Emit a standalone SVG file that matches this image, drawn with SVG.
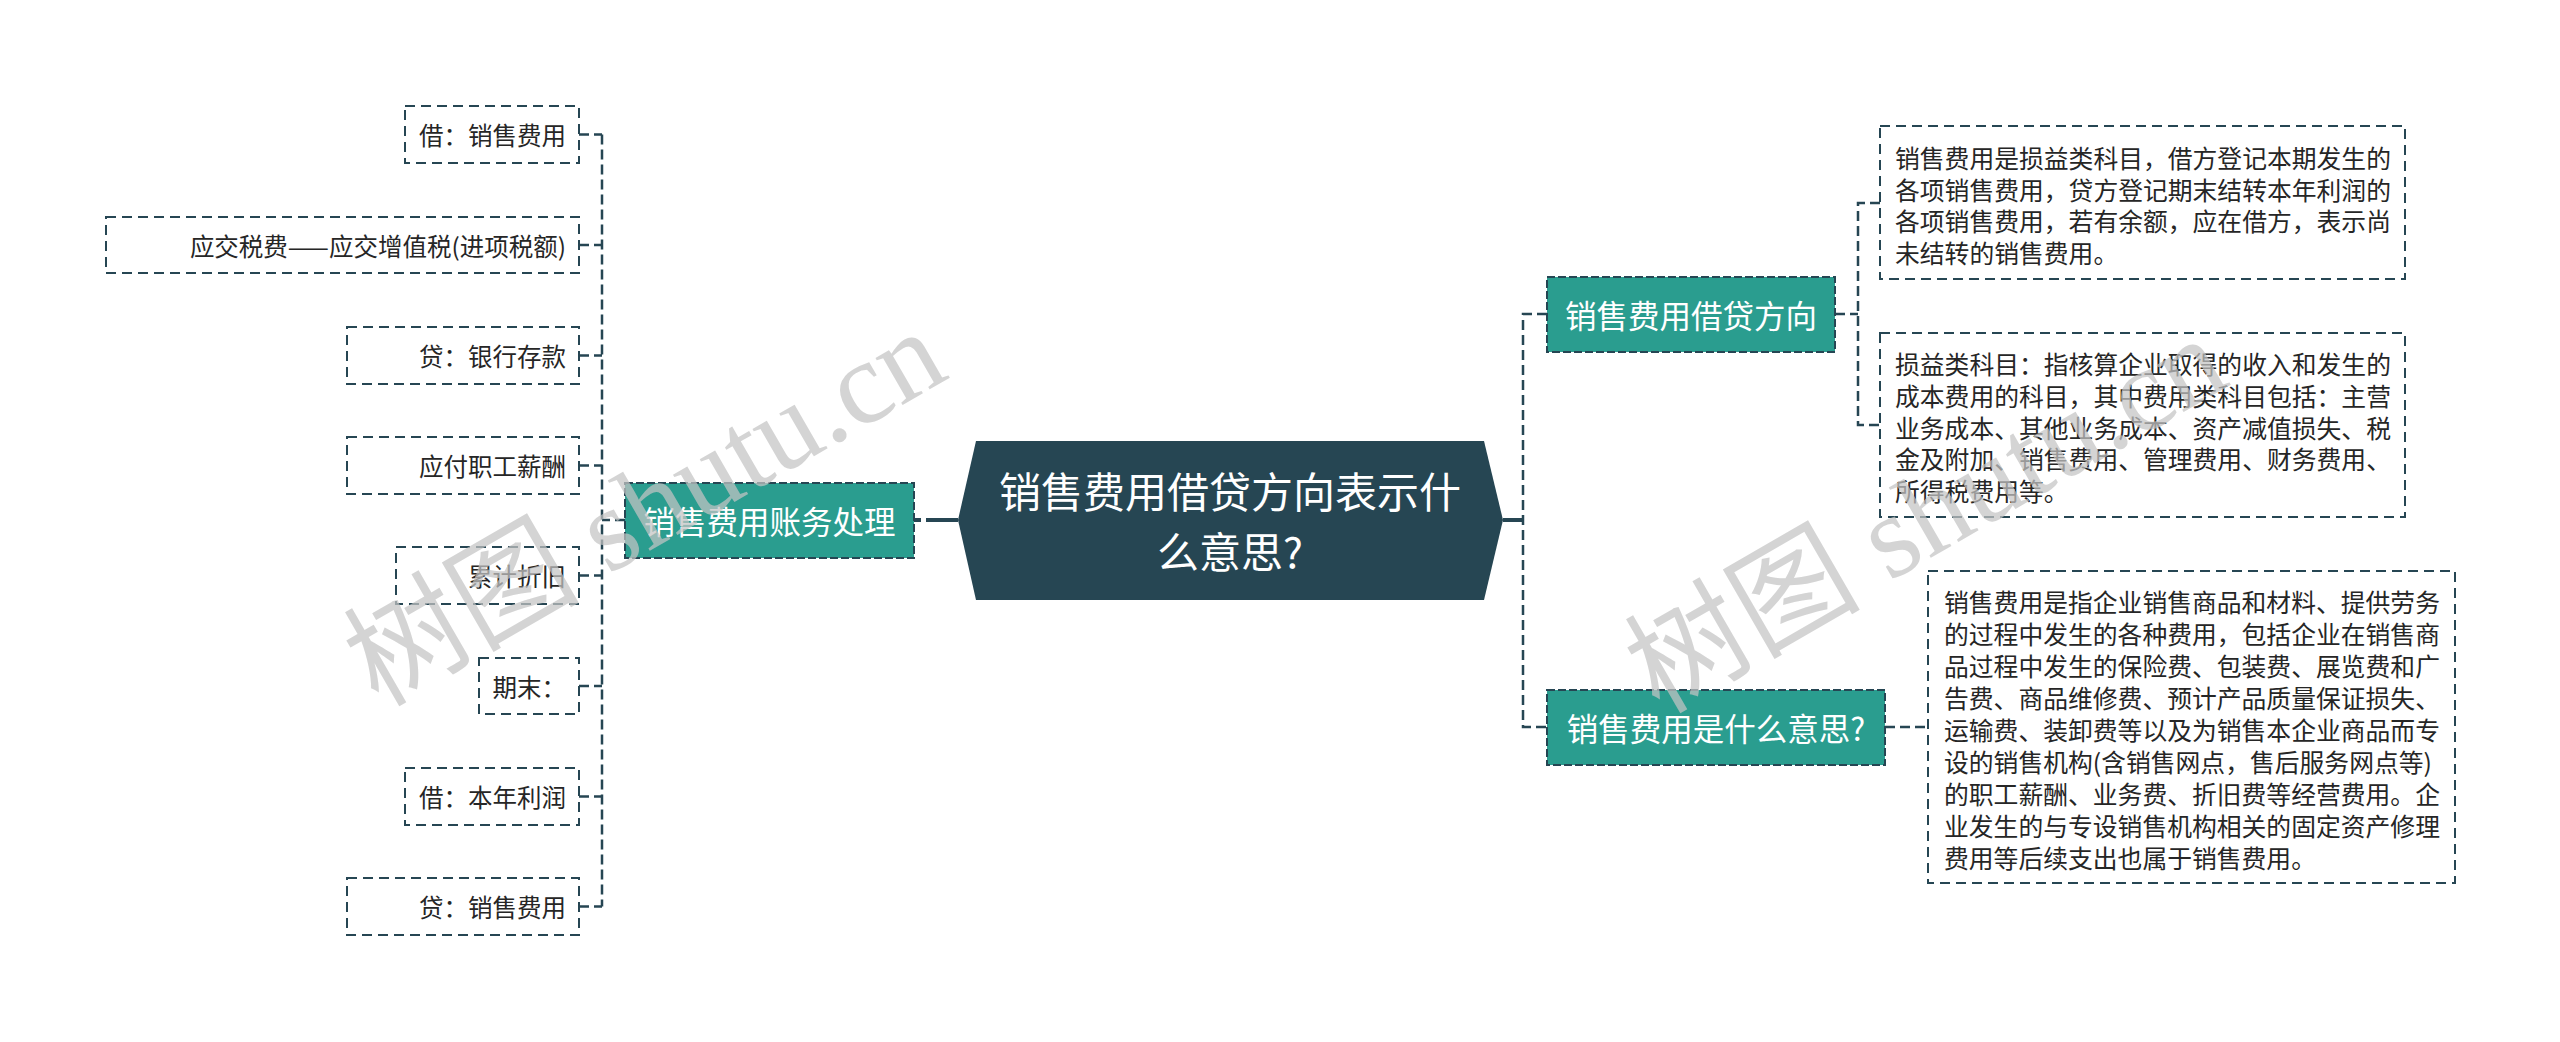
<svg xmlns="http://www.w3.org/2000/svg" width="2560" height="1042" viewBox="0 0 2560 1042">
<style>
.leaf{fill:#fff;stroke:#264653;stroke-width:2;stroke-dasharray:10 6}
.branch{fill:#2a9d8f;stroke:#264653;stroke-width:2;stroke-dasharray:8 3}
.root{fill:#264653}
.conn{fill:none;stroke:#264653;stroke-width:2.5;stroke-dasharray:10 5}
.main{fill:none;stroke:#264653;stroke-width:4}
.t{font-family:"Noto Sans CJK SC","Liberation Sans",sans-serif;dominant-baseline:central}
.lt{font-size:24.5px;fill:#262626;text-anchor:end}
.rt{font-size:24.8px;fill:#262626}
.bt{font-size:31.5px;fill:#fff;text-anchor:middle}
.ct{font-size:42px;fill:#fff;text-anchor:middle}
.wm{font-family:"Liberation Serif","Noto Sans CJK SC",serif;font-size:118px;fill:#c4c4c4;opacity:0.72;text-anchor:middle;dominant-baseline:central}
</style>
<rect width="2560" height="1042" fill="#fff"/>
<g id="connectors">
  <path class="main" d="M958 520 H914" stroke-dasharray="32 5 10"/>
  <path class="main" d="M1503 520 H1523"/>
  <path class="conn" d="M625 520 H602 M602 134.5 V906.5 M579 134.5 H602 M579 245 H602 M579 355.5 H602 M579 465.5 H602 M579 575.5 H602 M579 686 H602 M579 796.5 H602 M579 906.5 H602"/>
  <path class="conn" d="M1547 314 H1523 V727 H1547"/>
  <path class="conn" d="M1835 314 H1858 M1880 203 H1858 V425 H1880"/>
  <path class="conn" d="M1885 727 H1928"/>
</g>
<g id="root">
  <polygon class="root" points="976,441 1484,441 1503,520 1484,600 976,600 958,520"/>
  <text class="t ct" x="1230" y="489">销售费用借贷方向表示什</text>
  <text class="t ct" x="1230" y="549">么意思?</text>
</g>
<g id="branch-left">
  <rect class="branch" x="625" y="483" width="289" height="75"/>
  <text class="t bt" x="769.5" y="520">销售费用账务处理</text>
</g>
<g id="leaf1"><rect class="leaf" x="405" y="106" width="174" height="57"/><text class="t lt" x="566" y="134.5">借：销售费用</text></g>
<g id="leaf2"><rect class="leaf" x="106" y="217" width="473" height="56"/><text class="t lt" x="566" y="245">应交税费——应交增值税(进项税额)</text></g>
<g id="leaf3"><rect class="leaf" x="347" y="327" width="232" height="57"/><text class="t lt" x="566" y="355.5">贷：银行存款</text></g>
<g id="leaf4"><rect class="leaf" x="347" y="437" width="232" height="57"/><text class="t lt" x="566" y="465.5">应付职工薪酬</text></g>
<g id="leaf5"><rect class="leaf" x="396" y="547" width="183" height="57"/><text class="t lt" x="566" y="575.5">累计折旧</text></g>
<g id="leaf6"><rect class="leaf" x="479" y="658" width="100" height="56"/><text class="t lt" x="566" y="686">期末：</text></g>
<g id="leaf7"><rect class="leaf" x="405" y="768" width="174" height="57"/><text class="t lt" x="566" y="796.5">借：本年利润</text></g>
<g id="leaf8"><rect class="leaf" x="347" y="878" width="232" height="57"/><text class="t lt" x="566" y="906.5">贷：销售费用</text></g>
<g id="branch-right1">
  <rect class="branch" x="1547" y="277" width="288" height="75"/>
  <text class="t bt" x="1691" y="314">销售费用借贷方向</text>
</g>
<g id="branch-right2">
  <rect class="branch" x="1547" y="690" width="338" height="75"/>
  <text class="t bt" x="1716" y="727">销售费用是什么意思?</text>
</g>
<g id="note1">
  <rect class="leaf" x="1880" y="126" width="525" height="153"/>
  <text class="t rt" x="1895" y="157">销售费用是损益类科目，借方登记本期发生的</text>
  <text class="t rt" x="1895" y="189">各项销售费用，贷方登记期末结转本年利润的</text>
  <text class="t rt" x="1895" y="220">各项销售费用，若有余额，应在借方，表示尚</text>
  <text class="t rt" x="1895" y="252">未结转的销售费用。</text>
</g>
<g id="note2">
  <rect class="leaf" x="1880" y="333" width="525" height="184"/>
  <text class="t rt" x="1895" y="363">损益类科目：指核算企业取得的收入和发生的</text>
  <text class="t rt" x="1895" y="395">成本费用的科目，其中费用类科目包括：主营</text>
  <text class="t rt" x="1895" y="427">业务成本、其他业务成本、资产减值损失、税</text>
  <text class="t rt" x="1895" y="458">金及附加、销售费用、管理费用、财务费用、</text>
  <text class="t rt" x="1895" y="490">所得税费用等。</text>
</g>
<g id="note3">
  <rect class="leaf" x="1928" y="571" width="527" height="312"/>
  <text class="t rt" x="1944" y="601">销售费用是指企业销售商品和材料、提供劳务</text>
  <text class="t rt" x="1944" y="633">的过程中发生的各种费用，包括企业在销售商</text>
  <text class="t rt" x="1944" y="665">品过程中发生的保险费、包装费、展览费和广</text>
  <text class="t rt" x="1944" y="697">告费、商品维修费、预计产品质量保证损失、</text>
  <text class="t rt" x="1944" y="729">运输费、装卸费等以及为销售本企业商品而专</text>
  <text class="t rt" x="1944" y="761">设的销售机构(含销售网点，售后服务网点等)</text>
  <text class="t rt" x="1944" y="793">的职工薪酬、业务费、折旧费等经营费用。企</text>
  <text class="t rt" x="1944" y="825">业发生的与专设销售机构相关的固定资产修理</text>
  <text class="t rt" x="1944" y="857">费用等后续支出也属于销售费用。</text>
</g>
<g id="watermark">
  <text class="wm" x="645" y="508" transform="rotate(-30 645 508)">树图 shutu.cn</text>
  <text class="wm" x="1926" y="515" transform="rotate(-30 1926 515)">树图 shutu.cn</text>
</g>
</svg>
